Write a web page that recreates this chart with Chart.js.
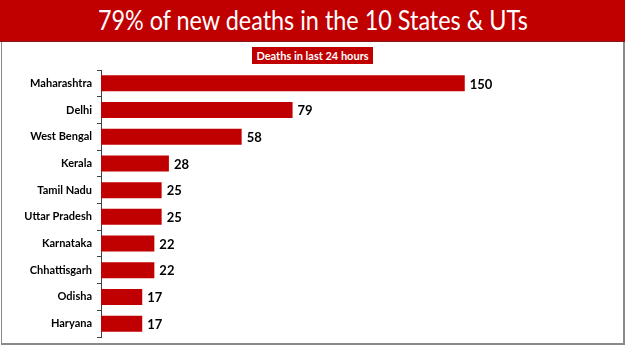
<!DOCTYPE html>
<html>
<head>
<meta charset="utf-8">
<script src="https://cdn.jsdelivr.net/npm/chart.js@4"></script>
<style>
  html, body { margin: 0; padding: 0; width: 625px; height: 351px; background: #fff; overflow: hidden; }
  #header { position: absolute; left: 0; top: 0; width: 625px; height: 41px; background: #C00000;
            border-bottom: 1px solid #8a1a1a; color: #fff; font-family: Lato, "Open Sans", sans-serif;
            font-size: 26px; line-height: 41px; text-align: center; }
  #header span { display: inline-block; transform: scaleX(0.9); }
  #panel { position: absolute; left: 1px; top: 42px; width: 621px; height: 301px;
           border-left: 1px solid #8a8a8a; border-right: 2px solid #8a8a8a; border-bottom: 2px solid #8a8a8a; }
  #sub { position: absolute; top: 46px; left: 0; width: 625px; text-align: center; }
  #sub span { display: inline-block; background: #C00000; color: #fff; font-family: Lato, "Open Sans", sans-serif;
              font-weight: bold; font-size: 11px; line-height: 17px; padding: 0 4px; }
  #wrap { position: absolute; left: 0; top: 0; width: 625px; height: 351px; }
</style>
</head>
<body>
<div id="header"><span>79% of new deaths in the 10 States &amp; UTs</span></div>
<div id="panel"></div>
<div id="sub"><span>Deaths in last 24 hours</span></div>
<div id="wrap"><canvas id="c" width="625" height="351"></canvas></div>
<script>
const categories = ["Maharashtra", "Delhi", "West Bengal", "Kerala", "Tamil Nadu", "Uttar Pradesh", "Karnataka", "Chhattisgarh", "Odisha", "Haryana"];
const deaths = [150, 79, 58, 28, 25, 25, 22, 22, 17, 17];
const seriesLabel = "Deaths in last 24 hours";

const valueLabels = {
  id: 'valueLabels',
  afterDatasetsDraw(chart) {
    const ctx = chart.ctx;
    const meta = chart.getDatasetMeta(0);
    ctx.save();
    ctx.font = 'bold 13px Lato, "Open Sans", sans-serif';
    ctx.fillStyle = '#000';
    ctx.textBaseline = 'middle';
    ctx.textAlign = 'left';
    meta.data.forEach((bar, i) => {
      ctx.fillText(String(chart.data.datasets[0].data[i]), bar.x + 5, bar.y + 1);
    });
    ctx.restore();
  }
};

new Chart(document.getElementById('c'), {
  type: 'bar',
  data: {
    labels: categories,
    datasets: [{
      label: seriesLabel,
      data: deaths,
      backgroundColor: '#C00000',
      borderWidth: 0,
      barPercentage: 0.6,
      categoryPercentage: 1.0
    }]
  },
  options: {
    indexAxis: 'y',
    responsive: false,
    animation: false,
    layout: { padding: { top: 70, bottom: 14, left: 0, right: 39 } },
    plugins: { legend: { display: false }, tooltip: { enabled: false }, title: { display: false } },
    scales: {
      x: { display: false, min: 0, max: 200 },
      y: {
        afterFit(scale) { scale.width = 101; },
        border: { display: true, color: '#404040', width: 1 },
        grid: { display: true, drawOnChartArea: false, drawTicks: true, tickLength: 4, color: '#404040', offset: true },
        ticks: { color: '#000', font: { family: 'Lato, "Open Sans", sans-serif', weight: 'bold', size: 11 }, padding: 5 }
      }
    }
  },
  plugins: [valueLabels]
});
</script>
</body>
</html>
